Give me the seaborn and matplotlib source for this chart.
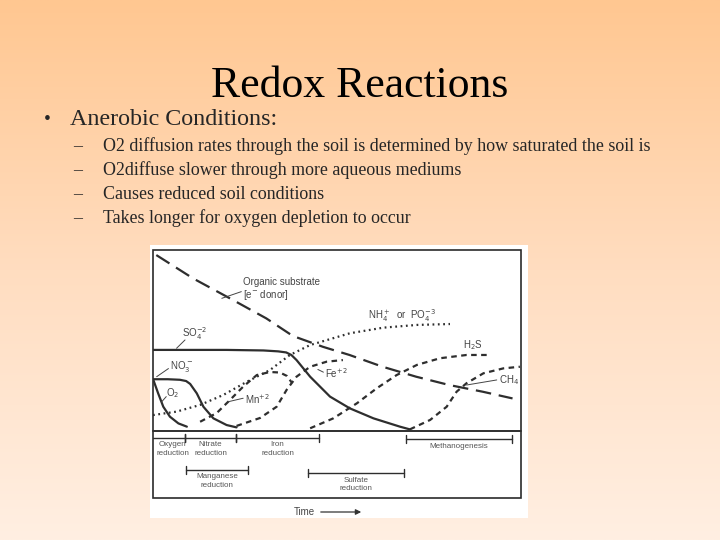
import numpy as np
import pandas as pd
import seaborn as sns
import matplotlib.pyplot as plt

sns.set_theme(style="white")
plt.rcParams['font.family'] = ['Liberation Sans', 'DejaVu Sans']

# curves (time 0-100, relative amount 0-100)
organic_x = [0.9, 10.9, 21.7, 30.8, 38.0, 46.2, 53.4, 62.4, 71.5, 80.5, 89.6, 97.7]
organic_y = [97.2, 84.3, 72.4, 62.2, 52.5, 46.5, 42.0, 35.5, 30.0, 25.4, 21.7, 18.0]
so4_x = [0, 20, 30, 34, 36.2, 37.6, 39.0, 42.7, 48.1, 53.5, 59.9, 67.1, 69.8]
so4_y = [44.8, 44.8, 44.5, 44.0, 43.4, 42.0, 39.2, 30.0, 19.0, 12.5, 7.0, 2.4, 0.9]
no3_x = [0, 4, 7.3, 9.0, 10.1, 11.9, 13.7, 16.4, 20.0, 22.7]
no3_y = [28.6, 28.6, 28.3, 27.6, 26.0, 20.8, 13.4, 7.0, 3.3, 2.0]
o2_x = [0.1, 1.4, 2.8, 4.6, 6.9, 9.2]
o2_y = [28.2, 20.8, 13.4, 7.9, 4.2, 2.4]
nh4_x = [0, 6.4, 12.8, 19.1, 25.5, 31.8, 37.2, 42.7, 53.5, 62.6, 71.7, 80.7]
nh4_y = [8.8, 10.7, 14.4, 19.9, 27.2, 33.7, 42.0, 47.5, 54.0, 57.1, 58.6, 59.1]
mn_x = [12.8, 17.3, 20.9, 24.5, 28.2, 31.8, 34.5, 36.4, 37.8]
mn_y = [5.1, 9.9, 17.1, 24.5, 30.9, 32.6, 32.3, 30.4, 26.5]
fe_x = [22.7, 29.1, 33.6, 36.3, 39.0, 42.7, 47.2, 51.6]
fe_y = [2.8, 7.2, 13.4, 22.7, 30.0, 35.5, 38.3, 39.2]
h2s_x = [42.7, 49.0, 55.4, 60.8, 66.2, 71.7, 78.0, 85.2, 91.6]
h2s_y = [1.5, 7.0, 15.3, 23.6, 30.9, 36.5, 40.2, 42.0, 42.0]
ch4_x = [69.8, 75.3, 79.8, 82.5, 85.2, 89.8, 95.2, 99.7]
ch4_y = [0.9, 6.1, 13.4, 21.7, 26.4, 31.9, 34.6, 35.5]

# reduction processes along the time axis: (label, start, end, row)
proc_names = ['Oxygen\nreduction', 'Nitrate\nreduction', 'Iron\nreduction',
              'Methanogenesis', 'Manganese\nreduction', 'Sulfate\nreduction']
proc_start = [0, 8.7, 22.6, 68.8, 8.9, 42.2]
proc_end = [8.7, 22.6, 45.1, 97.5, 25.9, 68.3]
proc_row = [0, 0, 0, 0, 1, 1]

bullets = ['O2 diffusion rates through the soil is determined by how saturated the soil is',
           'O2diffuse slower through more aqueous mediums',
           'Causes reduced soil conditions',
           'Takes longer for oxygen depletion to occur']

curves = {'organic': (organic_x, organic_y), 'so4': (so4_x, so4_y),
          'no3': (no3_x, no3_y), 'o2': (o2_x, o2_y), 'nh4': (nh4_x, nh4_y),
          'mn': (mn_x, mn_y), 'fe': (fe_x, fe_y), 'h2s': (h2s_x, h2s_y),
          'ch4': (ch4_x, ch4_y)}
df = pd.concat([pd.DataFrame({'species': k, 'time': v[0], 'amount': v[1]})
                for k, v in curves.items()], ignore_index=True)

W, H = 720, 540
fig = plt.figure(figsize=(W / 100, H / 100), dpi=100)

# slide background gradient
bg = fig.add_axes([0, 0, 1, 1])
top = np.array([255, 199, 145]) / 255
mid = np.array([255, 221, 192]) / 255
bot = np.array([255, 239, 226]) / 255
t = np.linspace(0, 1, 256)[:, None]
grad = np.where(t < 0.5, top + (mid - top) * (t / 0.5), mid + (bot - mid) * ((t - 0.5) / 0.5))
bg.imshow(grad[:, None, :].repeat(2, axis=1), aspect='auto', extent=[0, W, H, 0])
bg.set_xlim(0, W)
bg.set_ylim(H, 0)
bg.axis('off')

serif = ['Liberation Serif', 'DejaVu Serif']
bg.text(360, 97, 'Redox Reactions', ha='center', va='baseline', fontsize=31.5,
        family=serif, color='black')
bg.text(47, 124, '\u2022', ha='center', va='baseline', fontsize=14, family=serif)
bg.text(70, 125, 'Anerobic Conditions:', ha='left', va='baseline', fontsize=17.3,
        family=serif)
for i, line in enumerate(bullets):
    yb = 151 + 24 * i
    bg.text(78, yb, '\u2013', ha='center', va='baseline', fontsize=12.9, family=serif)
    bg.text(103, yb, line, ha='left', va='baseline', fontsize=12.9, family=serif)

# white scanned figure area and frame
bg.add_patch(plt.Rectangle((150, 245), 378, 273, facecolor='white', edgecolor='none'))
bg.add_patch(plt.Rectangle((153, 250), 368, 248, facecolor='none',
                           edgecolor='#2b2b2b', lw=1.2))
bg.text(304, 512, 'Time', ha='center', va='center', fontsize=7, color='#444')
bg.annotate('', xy=(364, 512), xytext=(318, 512),
            arrowprops=dict(arrowstyle='-|>', color='#333', lw=0.9, mutation_scale=8))

ink = '#2e2e2e'
ax = fig.add_axes([153 / W, (H - 431) / H, 368 / W, 181 / H])
dashes = {'organic': (7, 3.5), 'so4': '', 'no3': '', 'o2': '', 'nh4': (0.8, 1.6),
          'mn': (2.5, 2), 'fe': (2.5, 2), 'h2s': (2.5, 2), 'ch4': (2.5, 2)}
sns.lineplot(data=df, x='time', y='amount', style='species', dashes=dashes,
             units='species', estimator=None, sort=False, color=ink, lw=1.6,
             legend=False, ax=ax)
for ln in ax.lines:
    ln.set_solid_joinstyle('round')
    ln.set_dash_joinstyle('round')
ax.set_xlim(0, 100)
ax.set_ylim(0, 100)
ax.axis('off')
ax.axhline(0, color=ink, lw=1.4, xmin=0, xmax=1, clip_on=False)

lab = dict(fontsize=7, color='#444', ha='left', va='center')
ax.text(24.5, 82.5, 'Organic substrate', **lab)
ax.text(24.5, 75.0, '[e$^{-}$ donor]', **lab)
ax.plot([18.7, 24.0], [73.3, 77.0], color='#444', lw=0.7)
ax.text(58.4, 64.0, 'NH$_4^+$  or  PO$_4^{-3}$', **lab)
ax.text(8.0, 54.0, 'SO$_4^{-2}$', **lab)
ax.plot([6.4, 8.7], [45.7, 50.3], color='#444', lw=0.7)
ax.text(4.6, 35.5, 'NO$_3^-$', **lab)
ax.plot([1.0, 4.2], [30.0, 34.5], color='#444', lw=0.7)
ax.text(3.6, 21.0, 'O$_2$', **lab)
ax.plot([2.3, 3.6], [16.0, 19.0], color='#444', lw=0.7)
ax.text(25.0, 17.5, 'Mn$^{+2}$', **lab)
ax.plot([20.5, 24.5], [16.2, 18.1], color='#444', lw=0.7)
ax.text(46.7, 31.9, 'Fe$^{+2}$', **lab)
ax.plot([44.8, 46.3], [34.0, 32.5], color='#444', lw=0.7)
ax.text(84.2, 47.5, 'H$_2$S', **lab)
ax.text(94.0, 28.3, 'CH$_4$', **lab)
ax.plot([85.2, 93.4], [25.4, 28.2], color='#444', lw=0.7)

# process bars below the curves
axp = fig.add_axes([153 / W, (H - 498) / H, 368 / W, 67 / H])
axp.set_xlim(0, 100)
axp.set_ylim(67, 0)
axp.axis('off')
row_y = [6.5, 38.5]
for name, s, e, r in zip(proc_names, proc_start, proc_end, proc_row):
    y = row_y[r] + (1.5 if name == 'Methanogenesis' else 0)
    if name == 'Sulfate\nreduction':
        y += 3
    axp.plot([s, e], [y, y], color=ink, lw=1)
    for xe in (s, e):
        if xe > 0:
            axp.plot([xe, xe], [y - 4, y + 4], color=ink, lw=1)
    cx = (s + e) / 2 + (1.0 if s == 0 else 0)
    axp.text(cx, y + 4, name, ha='center', va='top', fontsize=5.8,
             color='#555', linespacing=1.3)

fig.savefig('out.png', dpi=100)
